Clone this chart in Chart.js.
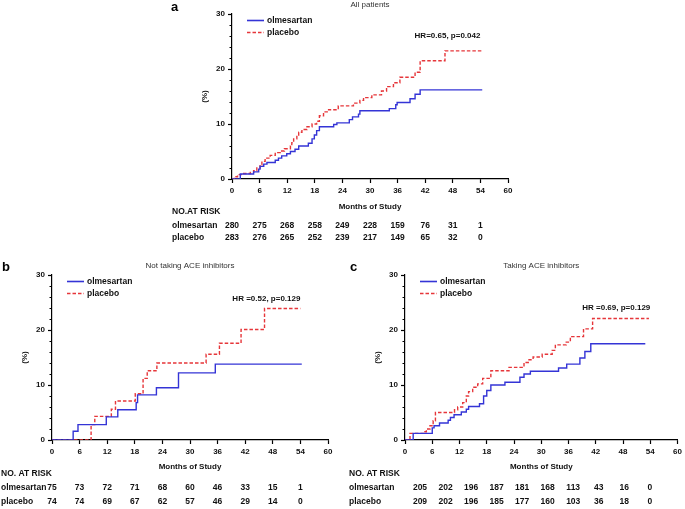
<!DOCTYPE html>
<html>
<head>
<meta charset="utf-8">
<script src="https://cdn.jsdelivr.net/npm/chart.js@4.4.0/dist/chart.umd.min.js"></script>
<style>
body { margin: 0; background: #fff; }
canvas { position: absolute; left: 0; top: 0; }
</style>
</head>
<body>
<canvas id="chartA" width="685" height="509"></canvas>
<canvas id="chartB" width="685" height="509"></canvas>
<canvas id="chartC" width="685" height="509"></canvas>
<script>
// months where the at-risk numbers are given
var riskMonths = [0, 6, 12, 18, 24, 30, 36, 42, 48, 54];

// a: all patients (cumulative event %, step curves)
var aOlmTime = [0, 1.8, 4.7, 5.8, 6.1, 6.9, 7.6, 9.4, 10.1, 10.8, 11.9, 12.7, 13.7, 14.5, 16.6, 17.4, 17.9, 18.4, 19.0, 22.1, 22.8, 25.5, 26.2, 27.5, 27.8, 34.2, 35.6, 35.9, 38.7, 39.8, 40.9, 54.4];
var aOlmPct  = [0, 0.9, 1.3, 1.8, 2.3, 2.7, 3.0, 3.4, 3.8, 4.2, 4.6, 5.0, 5.4, 6.0, 6.5, 7.3, 8.0, 8.8, 9.5, 9.9, 10.2, 10.8, 11.3, 11.8, 12.4, 12.8, 13.5, 13.9, 14.6, 15.4, 16.2, 16.2];
var aPlaTime = [0, 0.5, 1.2, 2.2, 4.0, 4.7, 5.4, 6.1, 6.5, 7.2, 8.3, 9.4, 10.5, 11.4, 12.7, 13.0, 13.4, 14.1, 14.5, 15.2, 16.3, 17.4, 18.4, 19.0, 19.9, 21.0, 23.1, 26.4, 27.8, 28.6, 30.4, 32.5, 33.6, 35.1, 36.5, 39.8, 40.9, 46.3, 54.4];
var aPlaPct  = [0, 0.4, 0.8, 1.0, 1.2, 1.5, 2.0, 2.6, 3.2, 3.8, 4.3, 4.8, 5.1, 5.5, 6.0, 6.6, 7.3, 8.0, 8.5, 9.0, 9.5, 10.0, 10.5, 11.5, 12.2, 12.6, 13.3, 13.8, 14.3, 14.8, 15.3, 16.0, 16.8, 17.5, 18.5, 19.4, 21.5, 23.3, 23.3];
var aOlmRisk = [280, 275, 268, 258, 249, 228, 159, 76, 31, 1];
var aPlaRisk = [283, 276, 265, 252, 239, 217, 149, 65, 32, 0];

// b: not taking ACE inhibitors
var bOlmTime = [0, 4.6, 5.65, 11.8, 14.3, 18.3, 18.6, 22.7, 27.5, 35.5, 54.3];
var bOlmPct  = [0, 1.6, 2.8, 4.2, 5.5, 6.8, 8.2, 9.5, 12.2, 13.8, 13.8];
var bPlaTime = [0, 8.5, 9.3, 12.9, 13.8, 18.1, 19.8, 20.7, 22.8, 33.5, 36.4, 41.1, 46.2, 54.0];
var bPlaPct  = [0, 2.8, 4.3, 5.6, 7.1, 8.4, 11.2, 12.6, 14.0, 15.6, 17.6, 20.1, 23.9, 23.9];
var bOlmRisk = [75, 73, 72, 71, 68, 60, 46, 33, 15, 1];
var bPlaRisk = [74, 74, 69, 67, 62, 57, 46, 29, 14, 0];

// c: taking ACE inhibitors
var cOlmTime = [0, 1.8, 6.0, 6.4, 7.6, 9.5, 10.0, 10.8, 12.4, 13.5, 14.0, 16.4, 17.3, 18.0, 18.9, 22.0, 25.3, 26.2, 27.6, 33.8, 35.6, 38.5, 39.6, 40.9, 52.9];
var cOlmPct  = [0, 1.2, 2.2, 2.6, 3.1, 3.6, 4.1, 4.6, 5.1, 5.6, 6.1, 6.6, 8.0, 9.0, 10.0, 10.5, 11.4, 12.0, 12.5, 13.1, 13.8, 14.9, 16.1, 17.5, 17.5];
var cPlaTime = [0, 1.1, 4.0, 4.7, 5.5, 6.2, 6.7, 10.9, 11.6, 12.7, 13.5, 14.0, 14.9, 16.0, 17.1, 18.9, 22.9, 26.2, 27.3, 28.2, 30.2, 32.4, 33.1, 35.5, 36.4, 39.3, 41.3, 53.7];
var cPlaPct  = [0, 1.2, 1.5, 2.0, 2.6, 3.5, 5.0, 5.5, 6.0, 6.8, 8.0, 8.8, 9.6, 10.2, 11.2, 12.6, 13.2, 14.1, 14.6, 15.1, 15.6, 16.3, 17.3, 17.8, 18.8, 20.2, 22.1, 22.1];
var cOlmRisk = [205, 202, 196, 187, 181, 168, 113, 43, 16, 0];
var cPlaRisk = [209, 202, 196, 185, 177, 160, 103, 36, 18, 0];

var BLUE = '#3434d6';
var RED = '#e6363a';
var FONT = '"Liberation Sans", Arial, sans-serif';

function toPoints(times, pcts) {
    return times.map(function (t, i) { return { x: t, y: pcts[i] }; });
}

// letter, title, legend, HR text, minor ticks and the at-risk table
var panelDecor = {
    id: 'panelDecor',
    afterDraw: function (chart, args, o) {
        var ctx = chart.ctx, area = chart.chartArea;
        var xs = chart.scales.x, ys = chart.scales.y;
        ctx.save();

        // short minor ticks on y
        ctx.strokeStyle = '#000';
        ctx.lineWidth = 1;
        ys.ticks.forEach(function (t) {
            if (t.value % 10 !== 0) {
                var py = Math.round(ys.getPixelForValue(t.value)) + 0.5;
                ctx.beginPath();
                ctx.moveTo(area.left, py);
                ctx.lineTo(area.left - 2.5, py);
                ctx.stroke();
            }
        });

        ctx.textBaseline = 'middle';
        ctx.fillStyle = '#000';
        ctx.textAlign = 'left';
        ctx.font = 'bold 13px ' + FONT;
        ctx.fillText(o.letter, o.letterX, o.letterY);

        ctx.fillStyle = '#333';
        ctx.textAlign = 'center';
        ctx.font = '8px ' + FONT;
        ctx.fillText(o.title, (area.left + area.right) / 2, area.top - 9);

        // legend
        chart.data.datasets.forEach(function (ds, i) {
            var ly = area.top + 6.5 + i * 12;
            ctx.strokeStyle = ds.borderColor;
            ctx.lineWidth = 1.6;
            ctx.setLineDash(ds.borderDash || []);
            ctx.beginPath();
            ctx.moveTo(area.left + 15, ly);
            ctx.lineTo(area.left + 32, ly);
            ctx.stroke();
            ctx.setLineDash([]);
            ctx.fillStyle = '#111';
            ctx.textAlign = 'left';
            ctx.font = 'bold 8.5px ' + FONT;
            ctx.fillText(ds.label, area.left + 35, ly);
        });

        ctx.textAlign = 'right';
        ctx.font = 'bold 8px ' + FONT;
        ctx.fillText(o.hr, xs.getPixelForValue(54), ys.getPixelForValue(o.hrY));

        // at-risk table
        var t = o.table;
        ctx.font = 'bold 8.5px ' + FONT;
        ctx.textAlign = 'left';
        ctx.fillText(t.header, t.labelX, t.headerY);
        var x0 = xs.getPixelForValue(0);
        [[ 'olmesartan', t.olm ], [ 'placebo', t.pla ]].forEach(function (row, r) {
            var ry = t.rowY + r * t.rowGap;
            ctx.textAlign = 'left';
            ctx.fillText(row[0], t.labelX, ry);
            ctx.textAlign = 'center';
            row[1].forEach(function (n, i) {
                var px = x0 + t.shift + (xs.getPixelForValue(riskMonths[i]) - x0) * t.squeeze;
                ctx.fillText(String(n), px, ry);
            });
        });
        ctx.restore();
    }
};

function drawPanel(id, olmT, olmP, plaT, plaP, pad, deco) {
    var ctx = document.getElementById(id).getContext('2d');
    return new Chart(ctx, {
        type: 'line',
        data: {
            datasets: [{
                label: 'olmesartan',
                data: toPoints(olmT, olmP),
                borderColor: BLUE,
                borderWidth: 1.4,
                stepped: true,
                pointRadius: 0,
                fill: false
            }, {
                label: 'placebo',
                data: toPoints(plaT, plaP),
                borderColor: RED,
                borderDash: [3.5, 2],
                borderWidth: 1.4,
                stepped: true,
                pointRadius: 0,
                fill: false
            }]
        },
        options: {
            responsive: false,
            animation: false,
            layout: { padding: pad },
            plugins: {
                legend: { display: false },
                tooltip: { enabled: false },
                panelDecor: deco
            },
            scales: {
                x: {
                    type: 'linear',
                    min: 0, max: 60,
                    afterFit: function (s) { s.height = deco.xAxisHeight; },
                    ticks: { stepSize: 6, autoSkip: false, maxRotation: 0, padding: 3, color: '#111', font: { family: FONT, size: 8, weight: 'bold' } },
                    grid: { drawOnChartArea: false, tickLength: 4, tickColor: '#000', tickWidth: 1.2 },
                    border: { color: '#000', width: 1.2 },
                    title: { display: true, text: 'Months of Study', color: '#111', padding: 0, font: { family: FONT, size: 8, weight: 'bold' } }
                },
                y: {
                    min: 0, max: 30,
                    afterFit: function (s) { s.width = 32; },
                    ticks: {
                        stepSize: 2, autoSkip: false, padding: 3, color: '#111', font: { family: FONT, size: 8, weight: 'bold' },
                        callback: function (v) { return v % 10 === 0 ? v : ''; }
                    },
                    grid: {
                        drawOnChartArea: false, tickLength: 4, tickWidth: 1.2,
                        tickColor: function (c) { return c.tick && c.tick.value % 10 === 0 ? '#000' : 'rgba(0,0,0,0)'; }
                    },
                    border: { color: '#000', width: 1.2 },
                    title: { display: true, text: '(%)', color: '#111', padding: 0, font: { family: FONT, size: 8, weight: 'bold' } }
                }
            }
        },
        plugins: [panelDecor]
    });
}

drawPanel('chartA', aOlmTime, aOlmPct, aPlaTime, aPlaPct,
    { left: 200, top: 14, right: 177, bottom: 297 },
    { letter: 'a', letterX: 171, letterY: 7, title: 'All patients', hr: 'HR=0.65, p=0.042', hrY: 26,
      xAxisHeight: 33,
      table: { header: 'NO.AT RISK', labelX: 172, headerY: 212, rowY: 226, rowGap: 12, olm: aOlmRisk, pla: aPlaRisk, shift: 0, squeeze: 1 } });

drawPanel('chartB', bOlmTime, bOlmPct, bPlaTime, bPlaPct,
    { left: 20, top: 275, right: 357, bottom: 37 },
    { letter: 'b', letterX: 2, letterY: 267, title: 'Not taking ACE inhibitors', hr: 'HR =0.52, p=0.129', hrY: 25.6,
      xAxisHeight: 32,
      table: { header: 'NO. AT RISK', labelX: 1, headerY: 474, rowY: 488, rowGap: 14, olm: bOlmRisk, pla: bPlaRisk, shift: 0, squeeze: 1 } });

drawPanel('chartC', cOlmTime, cOlmPct, cPlaTime, cPlaPct,
    { left: 373, top: 275, right: 5, bottom: 37 },
    { letter: 'c', letterX: 350, letterY: 267, title: 'Taking ACE inhibitors', hr: 'HR =0.69, p=0.129', hrY: 24,
      xAxisHeight: 32,
      table: { header: 'NO. AT RISK', labelX: 349, headerY: 474, rowY: 488, rowGap: 14, olm: cOlmRisk, pla: cPlaRisk, shift: 15, squeeze: 0.937 } });
</script>
</body>
</html>
